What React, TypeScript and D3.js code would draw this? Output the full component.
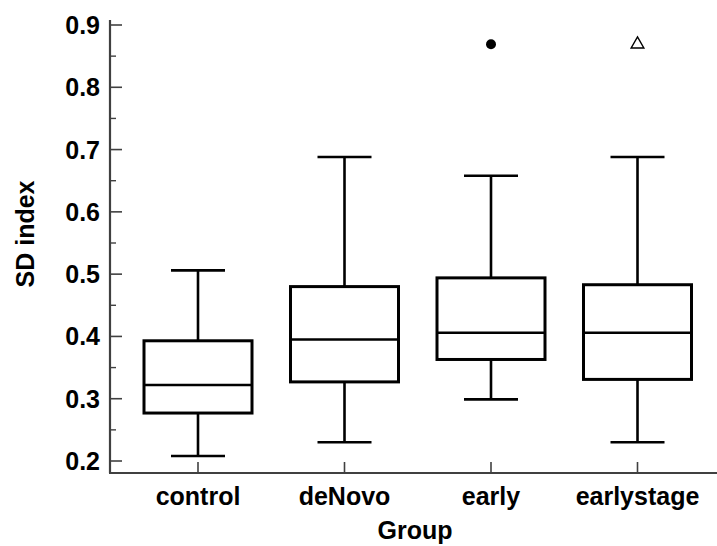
import React from "react";
import * as d3 from "d3";

const groups = ["control", "deNovo", "early", "earlystage"];
const whiskerLow = [0.208, 0.23, 0.299, 0.23];
const q1 = [0.277, 0.327, 0.363, 0.331];
const median = [0.322, 0.395, 0.406, 0.406];
const q3 = [0.393, 0.48, 0.494, 0.483];
const whiskerHigh = [0.506, 0.688, 0.658, 0.688];
const outlierGroups = ["early", "earlystage"];
const outlierValues = [0.869, 0.869];
const outlierShapes = ["circle", "triangle"];
const yTicks = [0.2, 0.3, 0.4, 0.5, 0.6, 0.7, 0.8, 0.9];
const yMinorTicks = [0.25, 0.35, 0.45, 0.55, 0.65, 0.75, 0.85];

const W = 717;
const H = 546;
const axisX = 110;
const axisY = 473;
const axisTop = 20;
const axisRight = 717;
const font = "Liberation Sans, Arial, sans-serif";
const fs = 25;

export default function App() {
  const x = d3.scalePoint<string>().domain(groups).range([198, 637.5]);
  const y = d3.scaleLinear().domain([0.2, 0.9]).range([461, 25]);
  const boxW = 108;
  const capW = 54;
  const axisColor = "#404040";
  const tri = d3.symbol().type(d3.symbolTriangle).size(70)();

  return (
    <svg
      width={W}
      height={H}
      style={{ position: "absolute", left: 0, top: 0, background: "#fff" }}
    >
      {groups.map((g, i) => {
        const cx = x(g)!;
        return (
          <g key={g} stroke="#000" fill="none">
            <line x1={cx} x2={cx} y1={y(whiskerHigh[i])} y2={y(q3[i])} strokeWidth={2.6} />
            <line x1={cx} x2={cx} y1={y(q1[i])} y2={y(whiskerLow[i])} strokeWidth={2.6} />
            <line x1={cx - capW / 2} x2={cx + capW / 2} y1={y(whiskerHigh[i])} y2={y(whiskerHigh[i])} strokeWidth={2.6} />
            <line x1={cx - capW / 2} x2={cx + capW / 2} y1={y(whiskerLow[i])} y2={y(whiskerLow[i])} strokeWidth={2.6} />
            <rect
              x={cx - boxW / 2}
              y={y(q3[i])}
              width={boxW}
              height={y(q1[i]) - y(q3[i])}
              strokeWidth={3}
              fill="#fff"
            />
            <line x1={cx - boxW / 2} x2={cx + boxW / 2} y1={y(median[i])} y2={y(median[i])} strokeWidth={2.6} />
          </g>
        );
      })}
      {outlierGroups.map((g, i) => {
        const cx = x(g)!;
        const cy = y(outlierValues[i]);
        return outlierShapes[i] === "circle" ? (
          <circle key={g} cx={cx} cy={cy} r={5} fill="#000" />
        ) : (
          <path
            key={g}
            d={tri!}
            transform={`translate(${cx},${cy})`}
            fill="none"
            stroke="#000"
            strokeWidth={1.4}
          />
        );
      })}
      <line x1={axisX} x2={axisX} y1={axisTop} y2={axisY} stroke={axisColor} strokeWidth={2.2} />
      {yTicks.map((t) => (
        <g key={t}>
          <line x1={axisX} x2={axisX + 12} y1={y(t)} y2={y(t)} stroke={axisColor} strokeWidth={1.6} />
          <text
            x={100}
            y={y(t)}
            textAnchor="end"
            dominantBaseline="central"
            fontFamily={font}
            fontWeight="bold"
            fontSize={fs}
            fill="#000"
          >
            {t.toFixed(1)}
          </text>
        </g>
      ))}
      {yMinorTicks.map((t) => (
        <line key={t} x1={axisX} x2={axisX + 6} y1={y(t)} y2={y(t)} stroke={axisColor} strokeWidth={1.4} />
      ))}
      <line x1={axisX - 1} x2={axisRight} y1={axisY} y2={axisY} stroke={axisColor} strokeWidth={2.2} />
      {groups.map((g) => (
        <g key={g}>
          <line x1={x(g)!} x2={x(g)!} y1={axisY} y2={axisY - 11} stroke={axisColor} strokeWidth={1.6} />
          <text
            x={x(g)!}
            y={505}
            textAnchor="middle"
            fontFamily={font}
            fontWeight="bold"
            fontSize={fs}
            fill="#000"
          >
            {g}
          </text>
        </g>
      ))}
      <text
        x={415}
        y={539}
        textAnchor="middle"
        fontFamily={font}
        fontWeight="bold"
        fontSize={fs}
        fill="#000"
      >
        Group
      </text>
      <text
        transform={`translate(34,234) rotate(-90)`}
        textAnchor="middle"
        fontFamily={font}
        fontWeight="bold"
        fontSize={fs}
        fill="#000"
      >
        SD index
      </text>
    </svg>
  );
}
